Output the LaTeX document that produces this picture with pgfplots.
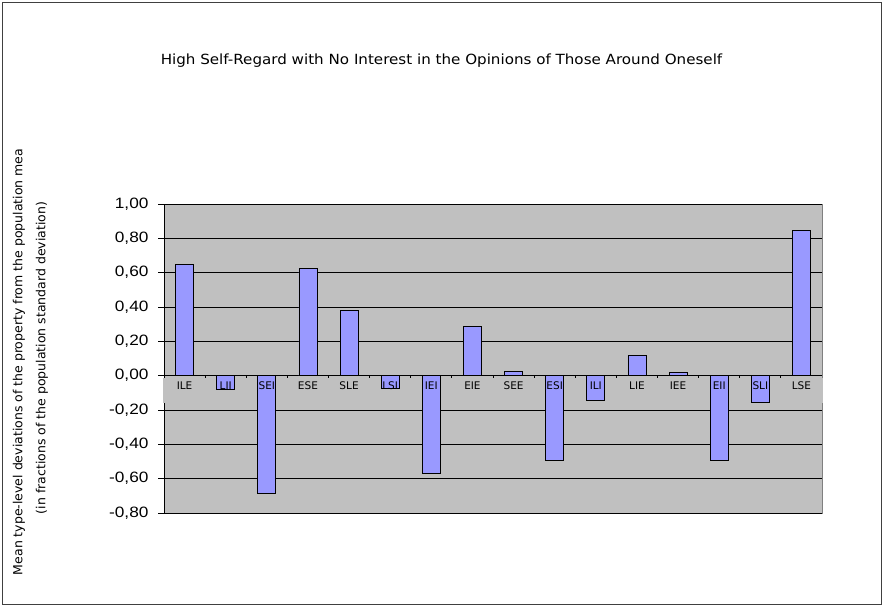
\documentclass[border=0pt]{standalone}
\usepackage{pgfplots}
\pgfplotsset{compat=1.18}
\usepackage{fontspec}
\setmainfont{DejaVu Sans}
\newfontfamily\tickfont[FakeStretch=1.15]{Liberation Sans}
\newfontfamily\titlefont[FakeStretch=1.08]{DejaVu Sans}
\definecolor{plotgray}{HTML}{C0C0C0}
\definecolor{barblue}{HTML}{9999FF}
\definecolor{framegray}{HTML}{808080}
\begin{document}
\begin{tikzpicture}[x=1pt,y=1pt]
\path (0,0) rectangle (884,607);
\draw[black!75, line width=1pt] (2.5,2.5) rectangle (881.5,604.5);
\node[font=\titlefont\fontsize{14}{16}\selectfont] at (441.5,546) {High Self-Regard with No Interest in the Opinions of Those Around Oneself};
\begin{axis}[
  clip=false,
  at={(164pt,94pt)}, anchor=south west,
  scale only axis, width=658pt, height=309pt,
  xmin=-0.5, xmax=15.5, ymin=-0.8, ymax=1.0,
  axis x line=middle, axis y line=left,
  hide obscured x ticks=false, hide obscured y ticks=false,
  axis line style={-, black, line width=0.8pt},
  x axis line style={line width=1.6pt},
  axis background/.style={fill=plotgray, draw=framegray, line width=0.8pt},
  ytick={-0.8,-0.6,-0.4,-0.2,0,0.2,0.4,0.6,0.8,1.0},
  ymajorgrids, major grid style={black, line width=0.8pt},
  tick align=outside, major tick length=6pt,
  tick style={black, line width=0.8pt},
  yticklabel style={font=\tickfont\fontsize{15}{17}\selectfont, xshift=-6pt, /pgf/number format/.cd, fixed, fixed zerofill, precision=2, use comma, assume math mode=true},
  xtick={0.5,1.5,...,14.5}, xticklabels={},
]
% light band behind the category names
\addplot[fill=plotgray, draw=none, forget plot] coordinates {
(-0.53,-0.013) (15.53,-0.013) (15.53,-0.159) (-0.53,-0.159)} -- cycle;
\addplot[ybar, bar width=18pt, fill=barblue, draw=black, line width=0.8pt, forget plot] coordinates {
(0,0.649) (1,-0.078) (2,-0.685) (3,0.626) (4,0.381) (5,-0.075) (6,-0.569) (7,0.288)
(8,0.026) (9,-0.493) (10,-0.143) (11,0.12) (12,0.02) (13,-0.493) (14,-0.155) (15,0.847)
};
% category names
\addplot[draw=none, forget plot, nodes near coords, point meta=explicit symbolic,
  every node near coord/.append style={anchor=north, yshift=-5.5pt, font=\fontsize{10.5}{12}\selectfont, inner sep=0pt}]
coordinates {
(0,0)[ILE] (1,0)[LII] (2,0)[SEI] (3,0)[ESE] (4,0)[SLE] (5,0)[LSI] (6,0)[IEI] (7,0)[EIE]
(8,0)[SEE] (9,0)[ESI] (10,0)[ILI] (11,0)[LIE] (12,0)[IEE] (13,0)[EII] (14,0)[SLI] (15,0)[LSE]
};
\end{axis}
\begin{scope}
\clip (0,29) rectangle (60,457);
\node[rotate=90, font=\fontsize{12.5}{14}\selectfont] at (19,249) {Mean type-level deviations of the property from the population mean};
\node[rotate=90, font=\fontsize{12.5}{14}\selectfont] at (42,249) {(in fractions of the population standard deviation)};
\end{scope}
\end{tikzpicture}
\end{document}
